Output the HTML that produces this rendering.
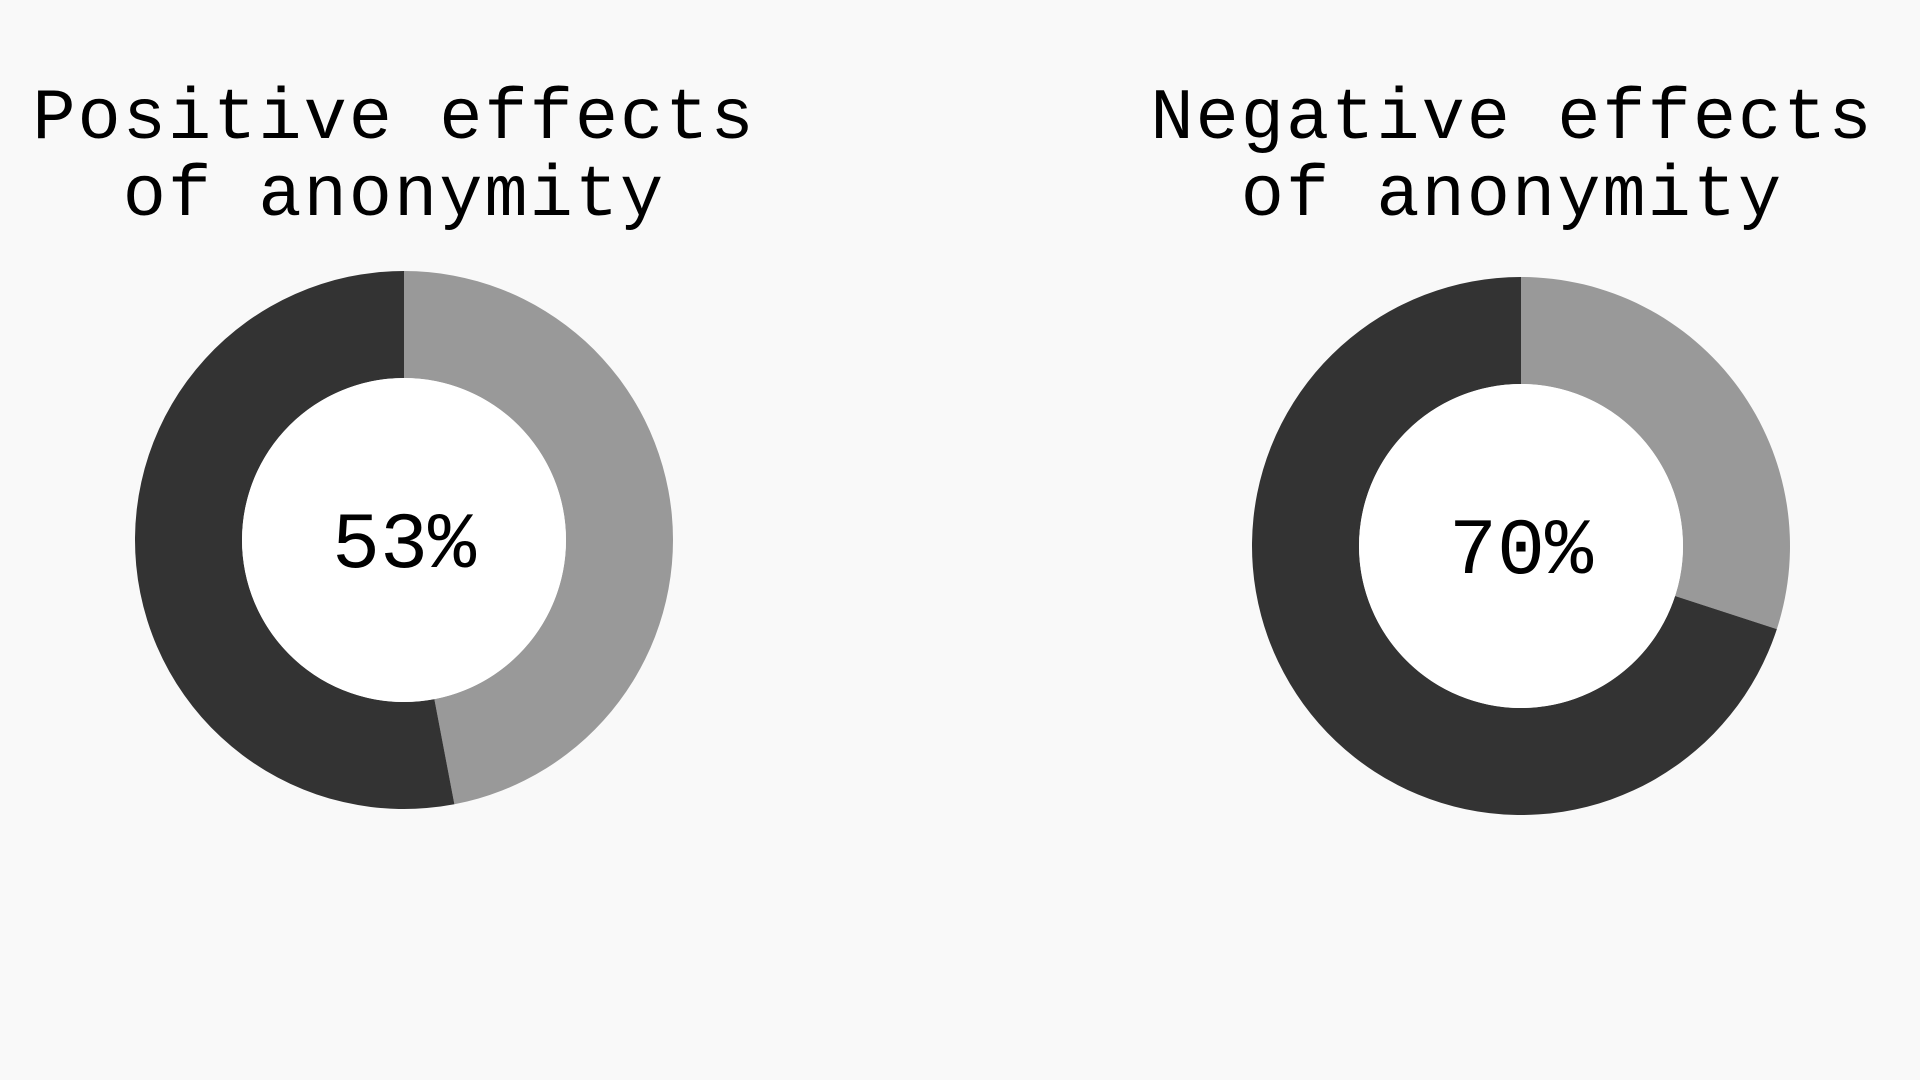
<!DOCTYPE html>
<html><head><meta charset="utf-8"><style>
html,body{margin:0;padding:0;background:#f9f9f9;}
svg{display:block;}
</style></head><body>
<svg id="chart" width="1920" height="1080">
<rect width="1920" height="1080" fill="#f9f9f9"/>
</svg>
<script>
const titlesLine1 = ["Positive effects", "Negative effects"];
const titlesLine2 = ["of anonymity", "of anonymity"];
const values = [53, 70];
const labels = ["53%", "70%"];

const layout = [{cx:404, cy:540, tx:394}, {cx:1521, cy:546, tx:1512}];
const R = 269, r = 162;
const svg = document.getElementById('chart');
const NS = 'http://www.w3.org/2000/svg';
function pt(cx, cy, rad, frac){ const a = frac*2*Math.PI; return [cx + rad*Math.sin(a), cy - rad*Math.cos(a)]; }
function arcPath(cx, cy, f0, f1){
  const [x0,y0]=pt(cx,cy,R,f0), [x1,y1]=pt(cx,cy,R,f1);
  const [x2,y2]=pt(cx,cy,r,f1), [x3,y3]=pt(cx,cy,r,f0);
  const large = (f1-f0)>0.5?1:0;
  return `M${x0},${y0} A${R},${R} 0 ${large} 1 ${x1},${y1} L${x2},${y2} A${r},${r} 0 ${large} 0 ${x3},${y3} Z`;
}
values.forEach((v,i)=>{
  const L = layout[i];
  const g = document.createElementNS(NS,'g');
  
  
  svg.appendChild(g);
  const split = (100 - v)/100;
  const light = document.createElementNS(NS,'path');
  light.setAttribute('d', arcPath(L.cx, L.cy, 0, split));
  light.setAttribute('fill', '#999999');
  
  
  g.appendChild(light);
  const dark = document.createElementNS(NS,'path');
  dark.setAttribute('d', arcPath(L.cx, L.cy, split, 1));
  dark.setAttribute('fill', '#333333');
  
  
  g.appendChild(dark);
  const hole = document.createElementNS(NS,'circle');
  hole.setAttribute('cx', L.cx); hole.setAttribute('cy', L.cy); hole.setAttribute('r', r);
  hole.setAttribute('fill', '#ffffff');
  
  
  g.appendChild(hole);
  const pct = document.createElementNS(NS,'text');
  pct.setAttribute('x', L.cx); pct.setAttribute('y', L.cy + 27);
  pct.setAttribute('text-anchor', 'middle');
  pct.setAttribute('style', 'font-family:"Liberation Mono",monospace;font-size:80px;letter-spacing:0px;fill:#000');
  pct.textContent = labels[i];
  
  
  g.appendChild(pct);
  [titlesLine1[i], titlesLine2[i]].forEach((t,j)=>{
    const tt = document.createElementNS(NS,'text');
    tt.setAttribute('x', L.tx); tt.setAttribute('y', j===0 ? 138 : 215);
    tt.setAttribute('text-anchor', 'middle');
    tt.setAttribute('style', 'font-family:"Liberation Mono",monospace;font-size:72px;letter-spacing:2px;fill:#000');
    tt.textContent = t;
    
    
    g.appendChild(tt);
  });
});
</script>
</body></html>
